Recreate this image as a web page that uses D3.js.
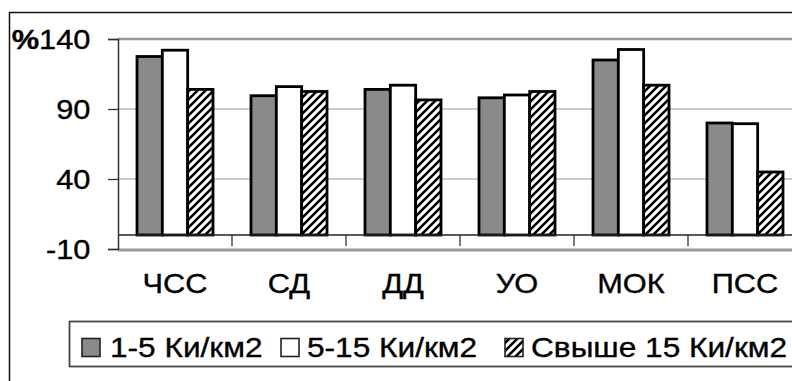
<!DOCTYPE html>
<html><head><meta charset="utf-8">
<script src="https://cdn.jsdelivr.net/npm/d3@7/dist/d3.min.js"></script>
<style>body{margin:0;background:#fff;}svg{display:block;}text{font-family:"Liberation Sans",Arial,sans-serif;fill:#000;stroke:#000;stroke-width:0.35px;}</style>
</head><body>
<svg id="c" width="792" height="381"></svg>
<script>
const categories = ["ЧСС","СД","ДД","УО","МОК","ПСС"];
const seriesNames = ["1-5 Ки/км2","5-15 Ки/км2","Свыше 15 Ки/км2"];
const s1 = [127.5, 99.5, 104, 98, 125, 80];
const s2 = [132, 106, 107, 100, 132.5, 79.5];
const s3 = [104, 102.5, 96.5, 102.5, 107, 45];
const yTicks = [-10, 40, 90, 140];
const series = [s1, s2, s3];

const svg = d3.select("#c");
const SX = 1.12, FS = 27.5;
const defs = svg.append("defs");
const pat = defs.append("pattern").attr("id","hatch").attr("patternUnits","userSpaceOnUse")
  .attr("width",8).attr("height",8);
pat.append("rect").attr("width",8).attr("height",8).attr("fill","#fff");
pat.append("path").attr("d","M-2,2 L2,-2 M0,8 L8,0 M6,10 L10,6").attr("stroke","#000").attr("stroke-width",2.6);
const fills = ["#8a8a8a","#ffffff","url(#hatch)"];

// outer border
svg.append("rect").attr("x",9.5).attr("y",12.5).attr("width",900).attr("height",500)
  .attr("fill","none").attr("stroke","#111").attr("stroke-width",1.5);

const pL = 118, pR = 802, pT = 39, pB = 249;
const x = d3.scaleBand().domain(categories).range([pL,pR]).paddingInner(1/3).paddingOuter(1/6);
const xs = d3.scaleBand().domain([0,1,2]).range([0,x.bandwidth()]);
const y = d3.scaleLinear().domain([-10,140]).range([pB,pT]);

// gridlines
svg.append("g").selectAll("line").data([40,90]).join("line")
  .attr("x1",pL).attr("x2",pR).attr("y1",d=>y(d)).attr("y2",d=>y(d))
  .attr("stroke","#9a9a9a").attr("stroke-width",1.2);
// plot border top/bottom
svg.append("line").attr("x1",pL).attr("x2",pR).attr("y1",y(140)).attr("y2",y(140))
  .attr("stroke","#999").attr("stroke-width",2.5);
svg.append("line").attr("x1",pL).attr("x2",pR).attr("y1",y(-10)+1).attr("y2",y(-10)+1)
  .attr("stroke","#999").attr("stroke-width",3);

// bars
series.forEach((s,i)=>{
  svg.append("g").selectAll("rect").data(s).join("rect")
    .attr("x",(d,j)=>x(categories[j])+xs(i))
    .attr("width",xs.bandwidth())
    .attr("y",d=>y(d)).attr("height",d=>y(0)-y(d))
    .attr("fill",fills[i]).attr("stroke","#000").attr("stroke-width",2.8);
});

// x axis at 0
svg.append("line").attr("x1",pL).attr("x2",pR).attr("y1",y(0)).attr("y2",y(0))
  .attr("stroke","#222").attr("stroke-width",1.3);
const step = x.step();
svg.append("g").selectAll("line").data(categories.slice(1)).join("line")
  .attr("x1",d=>x(d)-x.paddingOuter()*step).attr("x2",d=>x(d)-x.paddingOuter()*step)
  .attr("y1",y(0)).attr("y2",y(0)+11).attr("stroke","#222").attr("stroke-width",1.2);

// y axis
const yAxis = d3.axisLeft(y).tickValues(yTicks).tickSize(10).tickFormat("");
const ga = svg.append("g").attr("transform",`translate(${pL},0)`).call(yAxis);
ga.select(".domain").attr("stroke","#333").attr("stroke-width",1.5);
ga.selectAll(".tick line").attr("stroke","#333").attr("stroke-width",1.3);

// y labels
yTicks.forEach(t=>{
  const tx = svg.append("text").attr("transform",`translate(90.5,${y(t)+10}) scale(${SX},1)`)
    .attr("text-anchor","end").attr("font-size",FS);
  if(t===140){ tx.append("tspan").attr("font-weight","bold").text("%"); }
  tx.append("tspan").text(t);
});

// category labels
svg.append("g").selectAll("text").data(categories).join("text")
  .attr("transform",d=>`translate(${x(d)+x.bandwidth()/2},293) scale(${SX},1)`)
  .attr("text-anchor","middle").attr("font-size",FS).text(d=>d);

// legend
svg.append("rect").attr("x",69.5).attr("y",321.5).attr("width",800).attr("height",45)
  .attr("fill","none").attr("stroke","#444").attr("stroke-width",1.8);
const legX = [82, 281, 505];
const legTX = [110, 307, 531];
const LSX = 1.15;
seriesNames.forEach((n,i)=>{
  svg.append("rect").attr("x",legX[i]).attr("y",338.5).attr("width",18).attr("height",18)
    .attr("fill",fills[i]).attr("stroke","#222").attr("stroke-width",1.6);
  svg.append("text").attr("transform",`translate(${legTX[i]},356.5) scale(${LSX},1)`)
    .attr("font-size",FS).text(n);
});
</script>
</body></html>
